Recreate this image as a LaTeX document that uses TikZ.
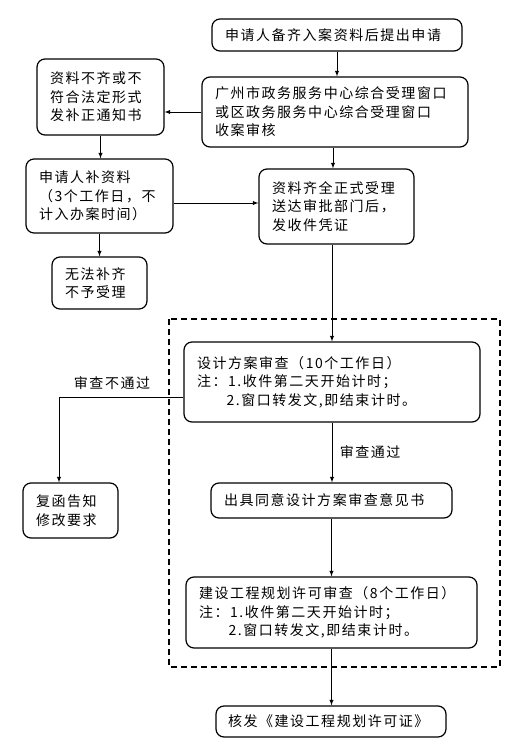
\documentclass[tikz,border=0pt]{standalone}
\usepackage{fontspec}
\setmainfont{Noto Sans CJK SC}[LetterSpace=11]
\usetikzlibrary{arrows,positioning}
\tikzset{
    box/.style={rectangle,draw,rounded corners=8pt,line width=1.2pt,align=left,inner xsep=13pt,inner ysep=2pt,font=\fontsize{14}{18.5}\selectfont},
    tag/.style={font=\fontsize{14}{18.5}\selectfont},
    pre/.style={-latex,line width=0.9pt},
    frame/.style={draw,line width=1.8pt,dash pattern=on 6pt off 4pt}
}

\begin{document}
\begin{tikzpicture}[x=1pt,y=-1pt]
    \useasboundingbox (0,0) rectangle (529,745);

    \node[box,text width=224pt,minimum height=32pt] (apply)    at (337,35)    {申请人备齐入案资料后提出申请};
    \node[box,text width=240pt,minimum height=70pt] (window)   at (335,112)   {广州市政务服务中心综合受理窗口\\或区政务服务中心综合受理窗口\\收案审核};
    \node[box,text width=101pt,minimum height=76pt] (notice)   at (100.5,97)  {资料不齐或不\\符合法定形式\\发补正通知书};
    \node[box,text width=121pt,minimum height=74pt] (supply)   at (99.5,196)  {申请人补资料\\（3个工作日，不\\计入办案时间）};
    \node[box,text width=69pt,minimum height=52pt]  (reject)   at (99.5,283)  {无法补齐\\不予受理};
    \node[box,text width=129pt,minimum height=75pt] (accept)   at (336.5,206.5) {资料齐全正式受理\\送达审批部门后，\\发收件凭证};

    % review stage
    \draw[frame] (169,319) rectangle (500,667);
    \node[box,text width=270pt,minimum height=80pt] (design)   at (332,382)   {设计方案审查（10个工作日）\\注：1.收件第二天开始计时；\\\hphantom{注：}2.窗口转发文,即结束计时。};
    \node[box,text width=69pt,minimum height=55pt]  (returned) at (70.5,510.5) {复函告知\\修改要求};
    \node[box,text width=215pt,minimum height=35pt] (opinion)  at (331.5,500.5) {出具同意设计方案审查意见书};
    \node[box,text width=265pt,minimum height=71pt] (permit)   at (331.5,612.5) {建设工程规划许可审查（8个工作日）\\注：1.收件第二天开始计时；\\\hphantom{注：}2.窗口转发文,即结束计时。};
    \node[box,text width=206pt,minimum height=31pt,inner xsep=12pt] (issue) at (331,721.5) {核发《建设工程规划许可证》};

    \node[tag] (fail) at (112,383) {审查不通过};

    \draw[pre] (apply.south) -- (apply.south |- window.north);
    \draw[pre] (window.west) -- (window.west -| notice.east);
    \draw[pre] (notice.south) -- (notice.south |- supply.north);
    \draw[pre] (supply.south) -- (supply.south |- reject.north);
    \draw[pre] ([yshift=-7pt]supply.east) -- ([yshift=-7pt]supply.east -| accept.west);
    \draw[pre] ([xshift=-2pt]window.south) -- ([xshift=-2pt]window.south |- accept.north);
    \draw[pre] (design.north |- accept.south) -- (design.north);
    \draw[pre] ([yshift=-15pt]design.west) -| ([xshift=-11.5pt]returned.north);
    \draw[pre] (design.south) -- node[tag,right=4pt] {审查通过} (design.south |- opinion.north);
    \draw[pre] (opinion.south) -- (opinion.south |- permit.north);
    \draw[pre] (permit.south) -- (permit.south |- issue.north);

\end{tikzpicture}
\end{document}
